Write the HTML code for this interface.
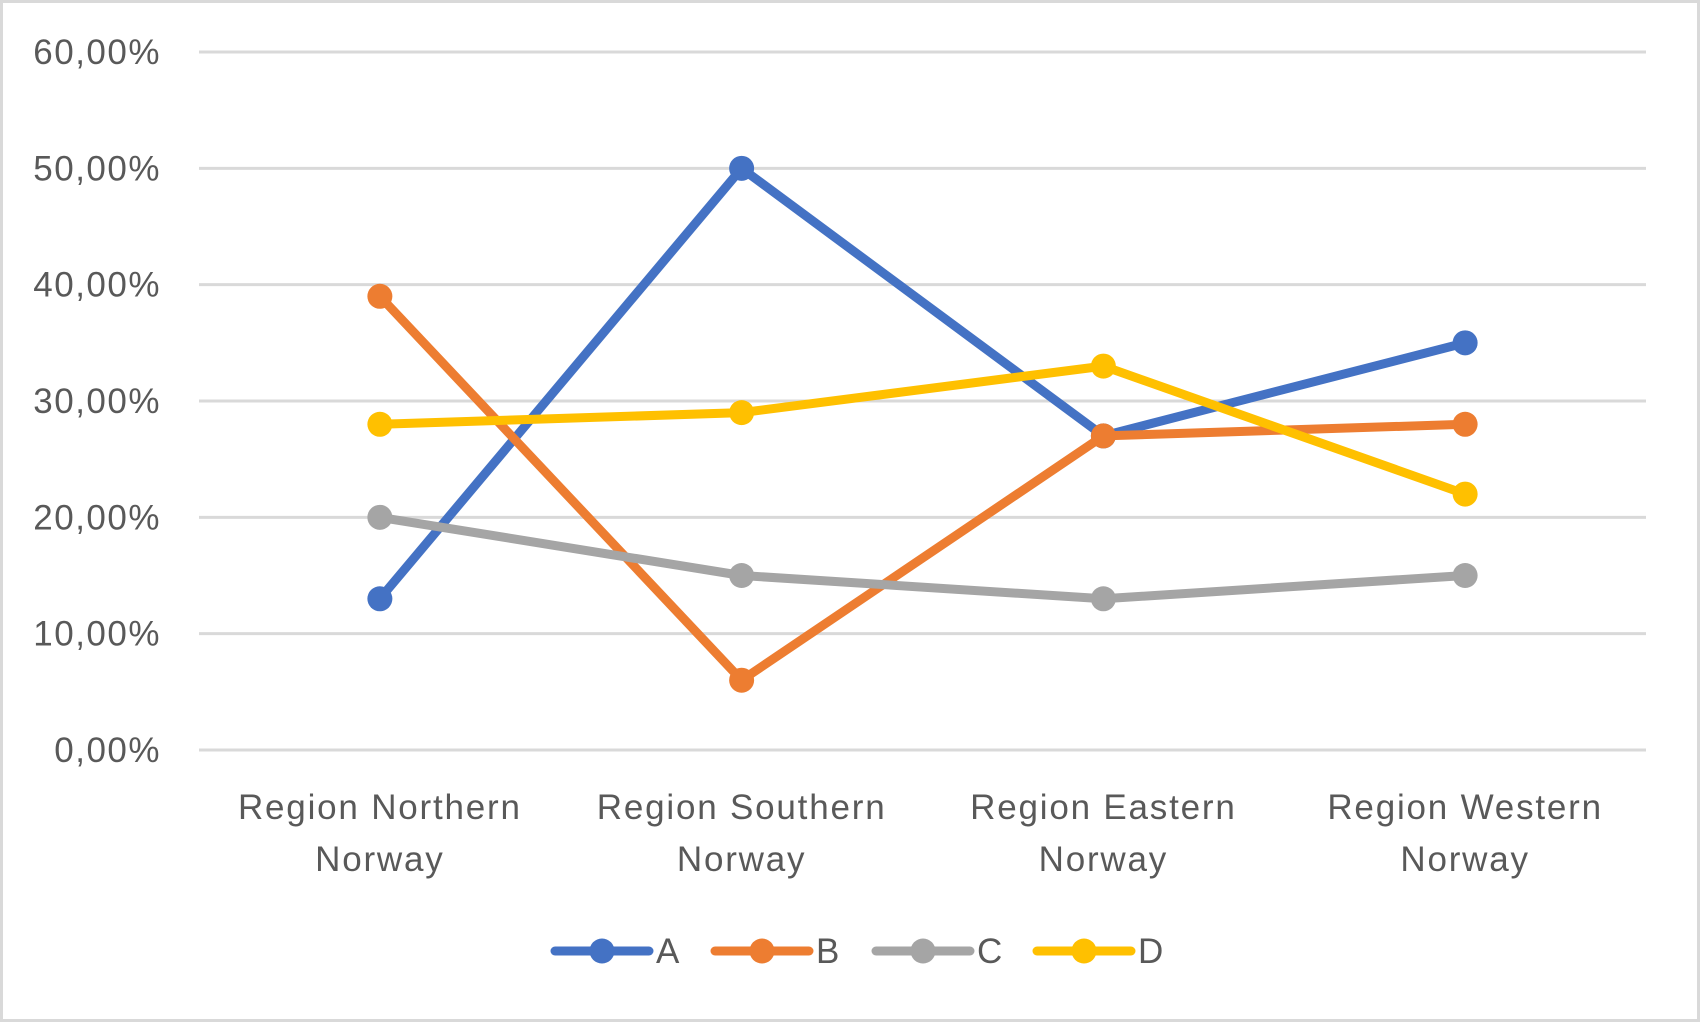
<!DOCTYPE html>
<html><head><meta charset="utf-8"><style>
html,body{margin:0;padding:0;background:#fff}
svg{display:block}
text{font-family:"Liberation Sans",sans-serif;fill:#595959}
</style></head><body>
<svg id="chart" width="1700" height="1022" viewBox="0 0 1700 1022">
<rect x="1.5" y="1.5" width="1697" height="1019" fill="#fff" stroke="#d9d9d9" stroke-width="3"/>
<g id="grid"></g>
<g id="yticks"></g>
<g id="xticks"></g>
<g id="series"></g>
<g id="legend"></g>
</svg>
<script>
const categories = [["Region Northern","Norway"],["Region Southern","Norway"],["Region Eastern","Norway"],["Region Western","Norway"]];
const seriesNames = ["A","B","C","D"];
const seriesA = [13,50,27,35];
const seriesB = [39,6,27,28];
const seriesC = [20,15,13,15];
const seriesD = [28,29,33,22];
const yTicks = [0,10,20,30,40,50,60];
const yTickLabels = ["0,00%","10,00%","20,00%","30,00%","40,00%","50,00%","60,00%"];

const NS="http://www.w3.org/2000/svg";
const colors=["#4472C4","#ED7D31","#A5A5A5","#FFC000"];
const plotL=199,plotR=1646,plotT=52,plotB=750;
function x(i){return plotL+(plotR-plotL)/categories.length*(i+0.5);}
function y(v){return plotB-(plotB-plotT)*v/60;}
function mk(tag,attrs,parent){const e=document.createElementNS(NS,tag);for(const k in attrs)e.setAttribute(k,attrs[k]);parent.appendChild(e);return e;}
const grid=document.getElementById('grid'),yt=document.getElementById('yticks'),xt=document.getElementById('xticks'),sg=document.getElementById('series'),lg=document.getElementById('legend');
yTicks.forEach((t,i)=>{
  const l=mk('line',{x1:plotL,x2:plotR,y1:y(t),y2:y(t),stroke:'#d9d9d9','stroke-width':3},grid);
  
  
  const tx=mk('text',{x:161,y:y(t)+12,'text-anchor':'end','font-size':35,'letter-spacing':1.5},yt);
  tx.textContent=yTickLabels[i];
  
  
});
categories.forEach((c,i)=>{
  c.forEach((line,j)=>{
    const tx=mk('text',{x:x(i),y:819+j*52,'text-anchor':'middle','font-size':35,'letter-spacing':1.8},xt);
    tx.textContent=line;
    
    
  });
});
const all=[seriesA,seriesB,seriesC,seriesD];
all.forEach((s,k)=>{
  const g=mk('g',{},sg);
  
  
  const pts=s.map((v,i)=>x(i)+','+y(v)).join(' ');
  const pl=mk('polyline',{points:pts,fill:'none',stroke:colors[k],'stroke-width':9,'stroke-linejoin':'round','stroke-linecap':'round'},g);
  
  
  s.forEach((v,i)=>{
    const c=mk('circle',{cx:x(i),cy:y(v),r:12.5,fill:colors[k]},g);
    
    
  });
});
const legX=[555,715,876,1037];
seriesNames.forEach((n,k)=>{
  const g=mk('g',{},lg);
  
  
  mk('line',{x1:legX[k],x2:legX[k]+94,y1:951,y2:951,stroke:colors[k],'stroke-width':9,'stroke-linecap':'round'},g);
  mk('circle',{cx:legX[k]+47,cy:951,r:12.5,fill:colors[k]},g);
  const t=mk('text',{x:legX[k]+101,y:963,'font-size':35},g);
  t.textContent=n;
});
</script>
</body></html>
